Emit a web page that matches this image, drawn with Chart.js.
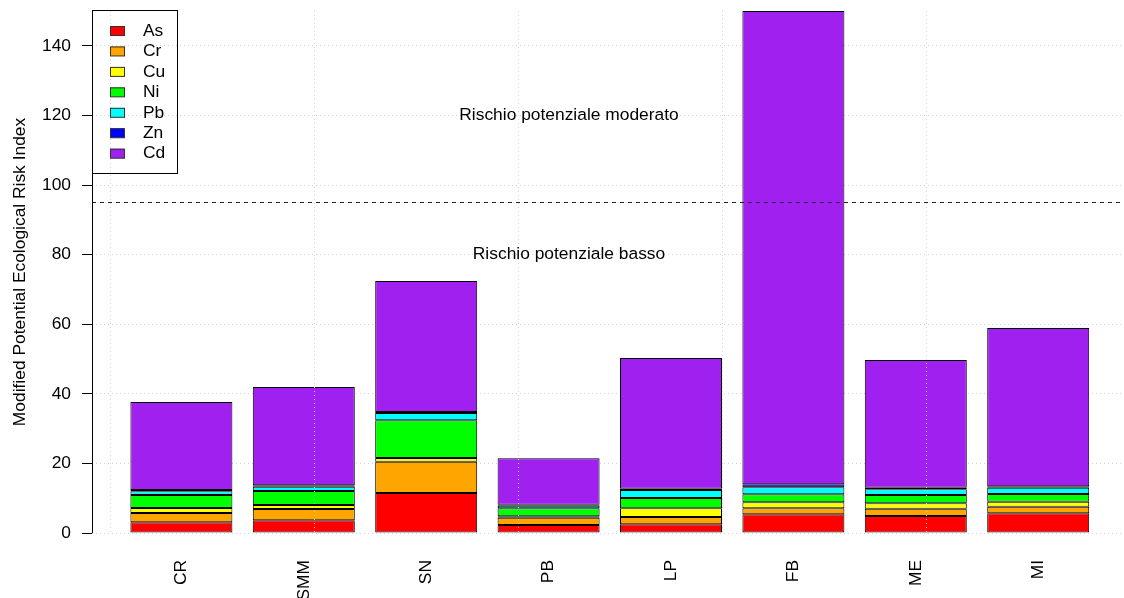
<!DOCTYPE html>
<html>
<head>
<meta charset="utf-8">
<script src="https://cdn.jsdelivr.net/npm/chart.js@4.4.1/dist/chart.umd.min.js"></script>
<style>
html, body { margin: 0; padding: 0; background: #fff; }
</style>
</head>
<body>
<canvas id="chart_mperi" width="1124" height="598"></canvas>
<script>
var siti = ["CR", "SMM", "SN", "PB", "LP", "FB", "ME", "MI"];
var metalli = ["As", "Cr", "Cu", "Ni", "Pb", "Zn", "Cd"];

var valAs = [3.07, 3.64, 11.50, 2.30, 2.49, 5.36, 4.89, 5.65];
var valCr = [2.68, 3.26, 9.00, 2.11, 2.11, 1.73, 2.10, 1.92];
var valCu = [1.44, 1.15, 1.06, 0.38, 2.49, 1.72, 1.54, 1.44];
var valNi = [3.73, 4.02, 10.84, 2.30, 2.97, 2.30, 2.39, 2.20];
var valPb = [1.06, 1.24, 2.10, 0.77, 2.30, 2.02, 1.63, 1.82];
var valZn = [0.38, 0.39, 0.30, 0.29, 0.38, 0.86, 0.45, 0.38];
var valCd = [25.30, 28.27, 37.60, 13.32, 37.56, 136.01, 36.70, 45.52];

var colori = ["#FF0000", "#FFA500", "#FFFF00", "#00FF00", "#00FFFF", "#0000FF", "#A020F0"];

var yTicks = [0, 20, 40, 60, 80, 100, 120, 140];
var xGriglia = [0, 2, 4, 6, 8];
var soglia = 95;
var note = [
    { testo: "Rischio potenziale moderato", x: 4.5, y: 120 },
    { testo: "Rischio potenziale basso", x: 4.5, y: 80 }
];

var serie = [valAs, valCr, valCu, valNi, valPb, valZn, valCd];

// barplot layout: width 1, space 0.2
function centroBarra(i) {
    return 0.7 + 1.2 * i;
}

// no extra room for the tick labels
function senzaPadding(scale) {
    scale.paddingLeft = 0;
    scale.paddingRight = 0;
    scale.paddingTop = 0;
    scale.paddingBottom = 0;
}

var FONT = "'Liberation Sans', Arial, sans-serif";
var FSIZE = 17.4;

var datasets = [];
for (var m = 0; m < metalli.length; m++) {
    var punti = [];
    for (var i = 0; i < siti.length; i++) {
        punti.push({ x: centroBarra(i), y: serie[m][i] });
    }
    datasets.push({
        label: metalli[m],
        data: punti,
        backgroundColor: colori[m],
        borderColor: "#000",
        borderWidth: 1,
        borderSkipped: false,
        categoryPercentage: 1,
        barPercentage: 1 / 1.2
    });
}

var extra = {
    id: "extra",
    afterDraw: function(chart) {
        var ctx = chart.ctx;
        var ca = chart.chartArea;
        var xs = chart.scales.x;
        var ys = chart.scales.y;
        ctx.save();

        // vertical grid
        ctx.strokeStyle = "#D3D3D3";
        ctx.lineWidth = 1;
        ctx.setLineDash([1, 3]);
        for (var g = 0; g < xGriglia.length; g++) {
            var px = Math.round(xs.getPixelForValue(xGriglia[g])) + 0.5;
            ctx.beginPath();
            ctx.moveTo(px, ca.top);
            ctx.lineTo(px, ca.bottom);
            ctx.stroke();
        }

        // threshold line
        ctx.strokeStyle = "#222";
        ctx.setLineDash([4, 4]);
        var py = Math.round(ys.getPixelForValue(soglia)) + 0.5;
        ctx.beginPath();
        ctx.moveTo(ca.left, py);
        ctx.lineTo(ca.right, py);
        ctx.stroke();
        ctx.setLineDash([]);

        // y axis line from first to last tick
        ctx.strokeStyle = "#000";
        ctx.beginPath();
        ctx.moveTo(ca.left + 0.5, ys.getPixelForValue(yTicks[0]));
        ctx.lineTo(ca.left + 0.5, ys.getPixelForValue(yTicks[yTicks.length - 1]));
        ctx.stroke();

        ctx.fillStyle = "#000";
        ctx.font = FSIZE + "px " + FONT;
        ctx.textAlign = "center";
        ctx.textBaseline = "middle";
        for (var n = 0; n < note.length; n++) {
            ctx.fillText(note[n].testo, xs.getPixelForValue(note[n].x), ys.getPixelForValue(note[n].y));
        }

        // legend
        var lx = ca.left, ly = ca.top - 1;
        ctx.strokeStyle = "#000";
        ctx.strokeRect(lx + 0.5, ly + 0.5, 85, 163);
        ctx.textAlign = "left";
        var ds = chart.data.datasets;
        for (var k = 0; k < ds.length; k++) {
            var ry = ly + 16 + k * 20.45;
            ctx.fillStyle = ds[k].backgroundColor;
            ctx.fillRect(lx + 18, ry, 14.5, 9.5);
            ctx.strokeStyle = "#333";
            ctx.strokeRect(lx + 18.5, ry + 0.5, 14, 9);
            ctx.fillStyle = "#000";
            ctx.fillText(ds[k].label, lx + 51, ry + 5);
        }
        ctx.restore();
    }
};

new Chart(document.getElementById("chart_mperi"), {
    type: "bar",
    data: { datasets: datasets },
    options: {
        responsive: false,
        animation: false,
        layout: { padding: { top: 11, left: 0, right: 0, bottom: 0 } },
        plugins: {
            legend: { display: false },
            tooltip: { enabled: false }
        },
        scales: {
            x: {
                type: "linear",
                stacked: true,
                offset: false,
                min: -18 / 102,
                max: 1014 / 102,
                grid: { display: false, drawTicks: false, offset: false },
                border: { display: false },
                afterBuildTicks: function(scale) {
                    scale.ticks = siti.map(function(s, i) { return { value: centroBarra(i) }; });
                },
                afterFit: function(scale) {
                    scale.height = 65;
                    senzaPadding(scale);
                },
                ticks: {
                    autoSkip: false,
                    minRotation: 90,
                    maxRotation: 90,
                    padding: 27,
                    color: "#000",
                    font: { family: FONT, size: FSIZE },
                    callback: function(value, index) { return siti[index]; }
                }
            },
            y: {
                stacked: true,
                min: 0,
                max: 150,
                z: 1,
                afterBuildTicks: function(scale) {
                    scale.ticks = yTicks.map(function(v) { return { value: v }; });
                },
                afterFit: function(scale) {
                    scale.width = 92;
                    senzaPadding(scale);
                },
                border: { display: false, dash: [1, 3] },
                grid: {
                    color: "#D3D3D3",
                    tickLength: 10,
                    tickColor: "#000",
                    tickBorderDash: [],
                    tickWidth: 1
                },
                ticks: {
                    padding: 11,
                    color: "#000",
                    font: { family: FONT, size: FSIZE }
                },
                title: {
                    display: true,
                    text: "Modified Potential Ecological Risk Index",
                    color: "#000",
                    font: { family: FONT, size: FSIZE },
                    padding: { top: 9.5, bottom: 0 }
                }
            }
        }
    },
    plugins: [extra]
});
</script>
</body>
</html>
